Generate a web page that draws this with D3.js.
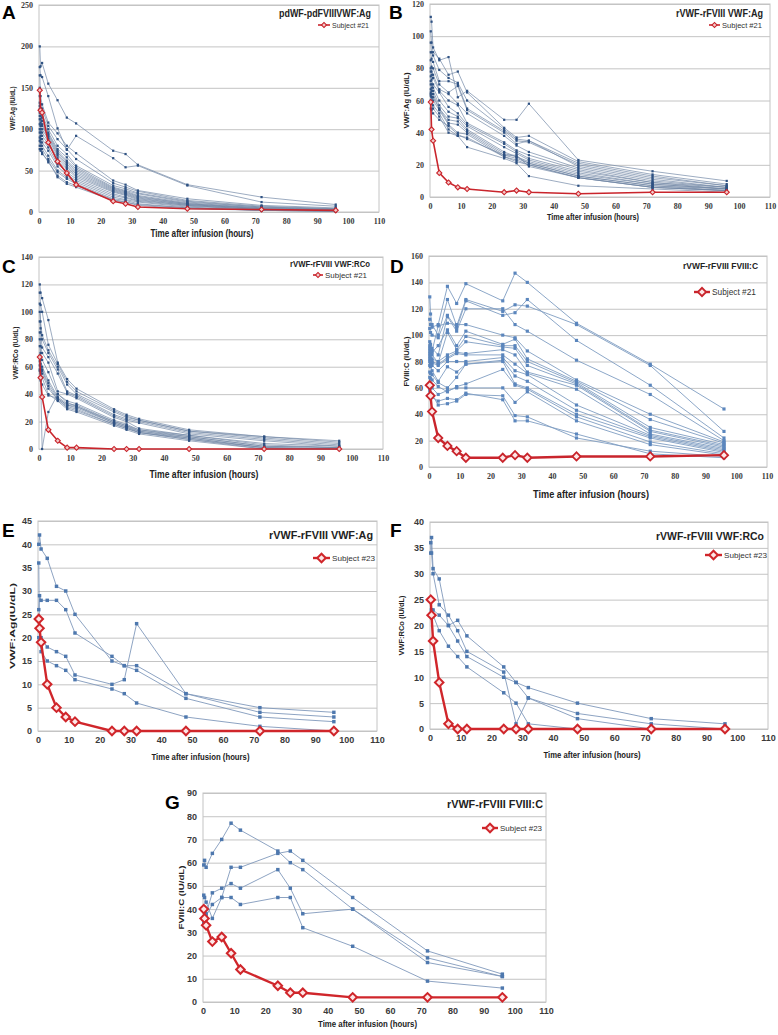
<!DOCTYPE html>
<html>
<head>
<meta charset="utf-8">
<script src="https://cdn.jsdelivr.net/npm/d3@7"></script>
<style>
  body { margin: 0; background: #fff; }
  svg { display: block; }
</style>
</head>
<body>
<div id="chart"></div>
<script>
// sampling times (hours after infusion)
const times = [0.25, 0.5, 1, 3, 6, 9, 12, 24, 28, 32, 48, 72, 96];
const xTicks = [0, 10, 20, 30, 40, 50, 60, 70, 80, 90, 100, 110];

// A: pdVWF-pdFVIII VWF:Ag
const yTicksA = [0, 50, 100, 150, 200, 250];
const subjectsA = [
  [200, 176, 180, 155, 135, 114, 107, 74, 70, 57, 33, 18, 9],
  [175, 165, 163, 140, 101, 75, 92, 65, 54, 56, 32, 12, 7],
  [165, 140, 130, 108, 95, 80, 71, 38, 33, 26, 16, 8, 5],
  [150, 130, 125, 104, 88, 76, 64, 35, 30, 25, 14, 7, 4],
  [140, 125, 118, 100, 80, 70, 56, 32, 28, 23, 13, 6, 4],
  [132, 120, 114, 96, 76, 66, 54, 30, 26, 22, 12, 6, 3],
  [128, 116, 110, 94, 74, 62, 52, 29, 25, 20, 11, 5, 3],
  [124, 112, 106, 92, 72, 60, 50, 28, 24, 19, 10, 5, 3],
  [120, 108, 104, 90, 70, 58, 48, 27, 23, 18, 10, 4, 2],
  [116, 104, 100, 88, 68, 56, 46, 26, 22, 17, 9, 4, 2],
  [112, 100, 96, 85, 65, 54, 44, 25, 21, 16, 9, 4, 2],
  [106, 96, 92, 82, 62, 52, 42, 24, 20, 15, 8, 3, 2],
  [100, 92, 88, 78, 58, 48, 40, 22, 18, 14, 8, 3, 2],
  [96, 88, 84, 74, 55, 45, 38, 20, 17, 13, 7, 3, 1],
  [90, 84, 80, 68, 50, 42, 36, 18, 15, 12, 6, 2, 1],
  [86, 80, 76, 64, 48, 40, 34, 16, 14, 10, 5, 2, 1],
  [80, 76, 72, 60, 44, 36, 32, 15, 12, 9, 5, 2, 1],
  [76, 74, 70, 62, 42, 34, 30, 14, 12, 8, 4, 2, 1]
];
const redA = [147, 123, 120, 84, 61, 47, 33, 13, 10, 6, 4, 3, 2];

// B: rVWF-rFVIII VWF:Ag
const yTicksB = [0, 20, 40, 60, 80, 100, 120];
const subjectsB = [
  [112, 109, 93, 85, 87, 62, 66, 48, 48, 58, 23, 16, 10],
  [103, 96, 90, 86, 76, 78, 65, 43, 37, 38, 22, 14, 8],
  [96, 90, 88, 79, 74, 71, 60, 42, 36, 35, 21, 13, 7],
  [90, 86, 84, 72, 72, 70, 55, 41, 35, 34, 20, 12, 7],
  [85, 81, 80, 70, 65, 69, 54, 40, 33, 35, 19, 11, 6],
  [80, 78, 76, 67, 64, 58, 52, 38, 32, 28, 18, 10, 6],
  [78, 76, 74, 66, 60, 57, 46, 34, 29, 26, 17, 9, 6],
  [75, 73, 70, 65, 56, 52, 45, 33, 28, 24, 16, 9, 5],
  [72, 70, 68, 60, 53, 50, 44, 31, 27, 23, 15, 8, 5],
  [70, 68, 66, 57, 50, 49, 42, 28, 25, 22, 14, 8, 5],
  [67, 66, 64, 55, 48, 47, 41, 27, 25, 21, 13, 7, 5],
  [65, 64, 62, 55, 46, 45, 40, 26, 24, 21, 13, 7, 4],
  [64, 62, 60, 54, 45, 40, 39, 25, 23, 20, 12, 6, 4],
  [63, 62, 57, 52, 42, 38, 37, 25, 22, 20, 12, 6, 4],
  [60, 58, 55, 50, 40, 38, 31, 24, 21, 13, 7, 5, 3],
  [55, 54, 52, 48, 44, 39, 36, 26, 26, 19, 12, 6, 4]
];
const redB = [59, 42, 35, 15, 9, 6, 5, 3, 4, 3, 2, 3, 3];

// C: rVWF-rFVIII VWF:RCo
const yTicksC = [0, 20, 40, 60, 80, 100, 120, 140];
const subjectsC = [
  [120, 114, 110, 94, 63, 51, 44, 29, 25, 22, 14, 9, 6],
  [114, 105, 100, 76, 62, 49, 42, 28, 24, 21, 13, 9, 5],
  [106, 93, 83, 72, 60, 47, 40, 27, 23, 21, 13, 8, 4],
  [100, 88, 80, 70, 58, 42, 39, 25, 22, 20, 12, 7, 3],
  [93, 85, 74, 67, 55, 41, 38, 24, 21, 19, 11, 6, 2],
  [85, 75, 70, 63, 42, 40, 37, 23, 20, 15, 10, 4, 2],
  [80, 70, 65, 56, 40, 35, 33, 21, 18, 14, 10, 3, 1],
  [75, 66, 60, 50, 38, 33, 32, 20, 17, 14, 9, 2, 1],
  [68, 62, 58, 48, 37, 32, 30, 19, 16, 13, 8, 1, 0],
  [64, 60, 57, 46, 36, 31, 29, 18, 15, 12, 8, 1, 0],
  [61, 58, 55, 44, 36, 30, 28, 18, 15, 12, 7, 0, 0],
  [58, 56, 52, 40, 35, 29, 27, 17, 14, 11, 6, 0, 0],
  [57, 55, 0, 27, 40, 34, 31, 19, 16, 12, 7, 1, 0],
  [52, 50, 47, 39, 37, 32, 31, 20, 17, 13, 9, 2, 1]
];
const redC = [67, 52, 38, 14, 6, 1, 1, 0, 0, 0, 0, 0, 0];

// D: rVWF-rFVIII FVIII:C
const yTicksD = [0, 20, 40, 60, 80, 100, 120, 140, 160];
const subjectsD = [
  [112, 108, 106, 108, 137, 124, 139, 126, 147, 140, 109, 78, 44],
  [129, 116, 108, 100, 127, 107, 127, 118, 123, 122, 108, 77, 27],
  [105, 102, 100, 98, 115, 105, 126, 115, 117, 127, 96, 62, 22],
  [95, 93, 90, 85, 114, 103, 120, 120, 108, 103, 81, 55, 20],
  [92, 90, 88, 107, 109, 108, 108, 100, 98, 88, 66, 40, 19],
  [90, 89, 87, 92, 104, 92, 103, 93, 97, 82, 65, 36, 18],
  [88, 87, 85, 79, 102, 89, 99, 92, 92, 80, 64, 30, 17],
  [86, 85, 82, 80, 85, 88, 95, 91, 90, 77, 63, 28, 16],
  [84, 82, 80, 78, 83, 87, 86, 89, 85, 72, 62, 27, 15],
  [82, 80, 79, 77, 82, 86, 85, 85, 78, 71, 59, 25, 14],
  [80, 78, 77, 73, 80, 80, 80, 83, 73, 70, 47, 24, 13],
  [77, 76, 73, 65, 76, 72, 78, 81, 69, 65, 43, 23, 12],
  [72, 71, 70, 64, 60, 68, 78, 80, 63, 60, 40, 22, 11],
  [68, 67, 66, 61, 57, 61, 63, 74, 62, 59, 38, 19, 10],
  [62, 62, 60, 55, 58, 60, 60, 60, 49, 57, 35, 17, 9],
  [58, 56, 55, 47, 48, 50, 55, 54, 39, 38, 22, 12, 8],
  [55, 54, 53, 50, 52, 51, 56, 51, 35, 35, 25, 10, 7]
];
const redD = [62, 54, 42, 22, 16, 12, 7, 7, 9, 7, 8, 8, 9];

// E: rVWF-rFVIII VWF:Ag (subject #23 cohort)
const yTicksE = [0, 5, 10, 15, 20, 25, 30, 35, 40, 45];
const subjectsE = [
  [40, 42, 39, 37, 31, 30, 25, 15, 14, 13, 7, 3, 2],
  [26, 29, 28, 28, 28, 26, 21, 16, 14, 14, 8, 4, 3],
  [20, 20, 20, 18, 17, 16, 12, 10, 11, 23, 8, 5, 4],
  [36, 19, 17, 15, 14, 13, 11, 9, 8, 6, 3, 1, 0]
];
const redE = [24, 22, 19, 10, 5, 3, 2, 0, 0, 0, 0, 0, 0];

// F: rVWF-rFVIII VWF:RCo
const yTicksF = [0, 5, 10, 15, 20, 25, 30, 35, 40];
const subjectsF = [
  [34, 37, 31, 29, 20, 21, 18, 12, 9, 8, 5, 2, 1],
  [36, 34, 30, 24, 22, 19, 15, 11, 1, 6, 3, 1, 0],
  [25, 23, 23, 22, 20, 17, 14, 10, 9, 6, 2, 0, 0],
  [25, 23, 22, 19, 16, 14, 12, 7, 5, 1, 0, 0, 0]
];
const redF = [25, 22, 17, 9, 1, 0, 0, 0, 0, 0, 0, 0, 0];

// G: rVWF-rFVIII FVIII:C
const yTicksG = [0, 10, 20, 30, 40, 50, 60, 70, 80, 90];
const subjectsG = [
  [59, 61, 58, 64, 70, 77, 74, 65, 60, 57, 40, 17, 11],
  [46, 45, 43, 36, 45, 58, 58, 64, 65, 61, 45, 22, 12],
  [40, 39, 38, 47, 49, 51, 49, 57, 49, 38, 40, 19, 11],
  [34, 33, 37, 42, 45, 45, 42, 45, 45, 32, 24, 9, 6]
];
const redG = [40, 36, 33, 26, 28, 21, 14, 7, 4, 4, 2, 2, 2];

const width = 778, height = 1035;
const svg = d3.select("#chart").append("svg")
  .attr("width", width)
  .attr("height", height);

// small style sets: top panels are tiny excel exports, bottom ones larger
const small = {
  tickFont: "Liberation Serif, DejaVu Serif, serif", tickSize: 8,
  line: "#7288a6", lineW: 0.7, dot: "#2f5283", dotSize: 5,
  red: "#c9252c", redW: 1.6, diamond: 13, diamondW: 1.1, diamondFill: "#f3c9c9"
};
const big = {
  tickFont: "Liberation Sans, Arial, sans-serif", tickSize: 9,
  line: "#8098bb", lineW: 0.9, dot: "#4e78ae", dotSize: 12,
  red: "#d0262b", redW: 2.4, diamond: 36, diamondW: 2, diamondFill: "#fde6e6"
};

const panels = [
  {letter: "A", lx: 2, ly: 19, left: 39, right: 379, top: 5, bottom: 212, yTicks: yTicksA,
   subjects: subjectsA, red: redA, st: small,
   title: "pdWF-pdFVIIIVWF:Ag", tx: 371, ty: 17, tw: 92, tsize: 10,
   legend: "Subject #21", gy: 25, gx1: 318, gx2: 330, gw: 37, gsize: 8,
   xTitleY: 237, xTitleW: 103, xTitleSize: 10,
   yTitle: "VWF:Ag (IU/dL)", yTitleX: 12, yTitleW: 44, yTitleSize: 7},
  {letter: "B", lx: 389, ly: 19, left: 430, right: 770, top: 4, bottom: 197, yTicks: yTicksB,
   subjects: subjectsB, red: redB, st: small,
   title: "rVWF-rFVIII VWF:Ag", tx: 763, ty: 17, tw: 87, tsize: 10,
   legend: "Subject #21", gy: 25, gx1: 709, gx2: 720, gw: 40, gsize: 8,
   xTitleY: 220, xTitleW: 92, xTitleSize: 9,
   yTitle: "VWF:Ag (IU/dL)", yTitleX: 406, yTitleW: 56, yTitleSize: 7},
  {letter: "C", lx: 2, ly: 273, left: 39, right: 383, top: 257, bottom: 449, yTicks: yTicksC,
   subjects: subjectsC, red: redC, st: small,
   title: "rVWF-rFVIII VWF:RCo", tx: 370, ty: 267, tw: 80, tsize: 9,
   legend: "Subject #21", gy: 275, gx1: 313, gx2: 323, gw: 42, gsize: 8,
   xTitleY: 478, xTitleW: 109, xTitleSize: 10,
   yTitle: "VWF:RCo (IU/dL)", yTitleX: 15, yTitleW: 53, yTitleSize: 7},
  {letter: "D", lx: 390, ly: 273, left: 429, right: 767, top: 256, bottom: 467, yTicks: yTicksD,
   subjects: subjectsD, red: redD, st: Object.assign({}, small, {line: "#7f9dc2", lineW: 0.9, dot: "#5b86bd", dotSize: 10, redW: 2.4, diamond: 34, diamondW: 1.8, diamondFill: "#fde6e6"}),
   title: "rVWF-rFVIII FVIII:C", tx: 758, ty: 269, tw: 75, tsize: 9,
   legend: "Subject #21", gy: 292, gx1: 694, gx2: 710, gw: 44, gsize: 9,
   xTitleY: 498, xTitleW: 116, xTitleSize: 11,
   yTitle: "FVIII:C (IU/dL)", yTitleX: 406, yTitleW: 50, yTitleSize: 7},
  {letter: "E", lx: 2, ly: 537, left: 38, right: 377, top: 521, bottom: 731, yTicks: yTicksE,
   subjects: subjectsE, red: redE, st: big,
   title: "rVWF-rFVIII VWF:Ag", tx: 373, ty: 539, tw: 104, tsize: 11,
   legend: "Subject #23", gy: 558, gx1: 313, gx2: 330, gw: 43, gsize: 8,
   xTitleY: 760, xTitleW: 98, xTitleSize: 9,
   yTitle: "VWF:Ag(IU/dL)", yTitleX: 12, yTitleW: 86, yTitleSize: 8},
  {letter: "F", lx: 390, ly: 537, left: 430, right: 768, top: 522, bottom: 729, yTicks: yTicksF,
   subjects: subjectsF, red: redF, st: big,
   title: "rVWF-rFVIII VWF:RCo", tx: 764, ty: 540, tw: 108, tsize: 10.5,
   legend: "Subject #23", gy: 555, gx1: 705, gx2: 722, gw: 43, gsize: 8,
   xTitleY: 758, xTitleW: 97, xTitleSize: 9,
   yTitle: "VWF:RCo (IU/dL)", yTitleX: 401, yTitleW: 60, yTitleSize: 8},
  {letter: "G", lx: 165, ly: 809, left: 203, right: 546, top: 793, bottom: 1002, yTicks: yTicksG,
   subjects: subjectsG, red: redG, st: big,
   title: "rVWF-rFVIII FVIII:C", tx: 543, ty: 808, tw: 96, tsize: 11,
   legend: "Subject #23", gy: 828, gx1: 482, gx2: 498, gw: 42, gsize: 8,
   xTitleY: 1027, xTitleW: 99, xTitleSize: 9,
   yTitle: "FVIII:C (IU/dL)", yTitleX: 181, yTitleW: 64, yTitleSize: 7}
];

panels.forEach(drawPanel);

function drawPanel(p) {
  const st = p.st;
  const yMax = p.yTicks[p.yTicks.length - 1];
  const x = d3.scaleLinear().domain([0, 110]).range([p.left, p.right]);
  const y = d3.scaleLinear().domain([0, yMax]).range([p.bottom, p.top]);
  const g = svg.append("g");

  // plot frame
  g.append("rect")
    .attr("x", p.left).attr("y", p.top)
    .attr("width", p.right - p.left).attr("height", p.bottom - p.top)
    .attr("fill", "none").attr("stroke", "#c4c4c4").attr("stroke-width", 1);

  // y axis with gridlines
  const yAxis = g.append("g")
    .attr("transform", `translate(${p.left},0)`)
    .call(d3.axisLeft(y).tickValues(p.yTicks).tickSize(-(p.right - p.left)).tickPadding(6));
  yAxis.select(".domain").remove();
  yAxis.selectAll(".tick line").attr("stroke", "#c4c4c4");
  yAxis.selectAll(".tick text")
    .attr("fill", "#3a3a3a")
    .style("font-family", st.tickFont)
    .style("font-size", st.tickSize + "px")
    .style("font-weight", "bold");

  // x axis
  const xAxis = g.append("g")
    .attr("transform", `translate(0,${p.bottom})`)
    .call(d3.axisBottom(x).tickValues(xTicks).tickSize(0).tickPadding(6));
  xAxis.select(".domain").remove();
  xAxis.selectAll(".tick text")
    .attr("fill", "#3a3a3a")
    .style("font-family", st.tickFont)
    .style("font-size", st.tickSize + "px")
    .style("font-weight", "bold");

  // panel letter
  g.append("text")
    .attr("x", p.lx).attr("y", p.ly)
    .style("font-family", "Liberation Sans, Arial, sans-serif")
    .style("font-size", "19px").style("font-weight", "bold")
    .text(p.letter);

  // axis titles
  g.append("text")
    .attr("x", (p.left + p.right) / 2 - 7).attr("y", p.xTitleY)
    .attr("text-anchor", "middle")
    .attr("textLength", p.xTitleW).attr("lengthAdjust", "spacingAndGlyphs")
    .style("font-family", "Liberation Sans, Arial, sans-serif")
    .style("font-size", p.xTitleSize + "px").style("font-weight", "bold")
    .attr("fill", "#222")
    .text("Time after infusion (hours)");

  const yc = (p.top + p.bottom) / 2;
  g.append("text")
    .attr("transform", `translate(${p.yTitleX + 3},${yc}) rotate(-90)`)
    .attr("text-anchor", "middle")
    .attr("textLength", p.yTitleW).attr("lengthAdjust", "spacingAndGlyphs")
    .style("font-family", "Liberation Sans, Arial, sans-serif")
    .style("font-size", p.yTitleSize + "px").style("font-weight", "bold")
    .attr("fill", "#222")
    .text(p.yTitle);

  // panel title
  g.append("text")
    .attr("x", p.tx).attr("y", p.ty)
    .attr("text-anchor", "end")
    .attr("textLength", p.tw).attr("lengthAdjust", "spacingAndGlyphs")
    .style("font-family", "Liberation Sans, Arial, sans-serif")
    .style("font-size", p.tsize + "px").style("font-weight", "bold")
    .attr("fill", "#222")
    .text(p.title);

  const line = d3.line()
    .defined(d => d != null)
    .x((d, i) => x(times[i]))
    .y(d => y(d));

  const square = d3.symbol(d3.symbolSquare, st.dotSize);
  const diamond = d3.symbol(d3.symbolSquare, st.diamond);

  // subject lines
  g.selectAll(".subj")
    .data(p.subjects)
    .enter()
    .append("path")
    .attr("d", line)
    .attr("fill", "none")
    .attr("stroke", st.line)
    .attr("stroke-width", st.lineW);

  p.subjects.forEach(s => {
    g.selectAll(null)
      .data(s)
      .enter()
      .append("path")
      .attr("d", square)
      .attr("transform", (d, i) => `translate(${x(times[i])},${y(d)})`)
      .attr("fill", st.dot);
  });

  // highlighted subject
  g.append("path")
    .attr("d", line(p.red))
    .attr("fill", "none")
    .attr("stroke", st.red)
    .attr("stroke-width", st.redW)
    .attr("stroke-linejoin", "round");

  g.selectAll(null)
    .data(p.red)
    .enter()
    .append("path")
    .attr("d", diamond)
    .attr("transform", (d, i) => `translate(${x(times[i])},${y(d)}) rotate(45)`)
    .attr("fill", st.diamondFill)
    .attr("stroke", st.red)
    .attr("stroke-width", st.diamondW);

  // legend
  g.append("line")
    .attr("x1", p.gx1).attr("x2", p.gx2)
    .attr("y1", p.gy).attr("y2", p.gy)
    .attr("stroke", st.red).attr("stroke-width", st.redW);
  g.append("path")
    .attr("d", diamond)
    .attr("transform", `translate(${(p.gx1 + p.gx2) / 2},${p.gy}) rotate(45)`)
    .attr("fill", st.diamondFill)
    .attr("stroke", st.red)
    .attr("stroke-width", st.diamondW);
  g.append("text")
    .attr("x", p.gx2 + 2).attr("y", p.gy + 3)
    .attr("textLength", p.gw).attr("lengthAdjust", "spacingAndGlyphs")
    .style("font-family", "Liberation Sans, Arial, sans-serif")
    .style("font-size", p.gsize + "px")
    .attr("fill", "#333")
    .text(p.legend);
}
</script>
</body>
</html>
